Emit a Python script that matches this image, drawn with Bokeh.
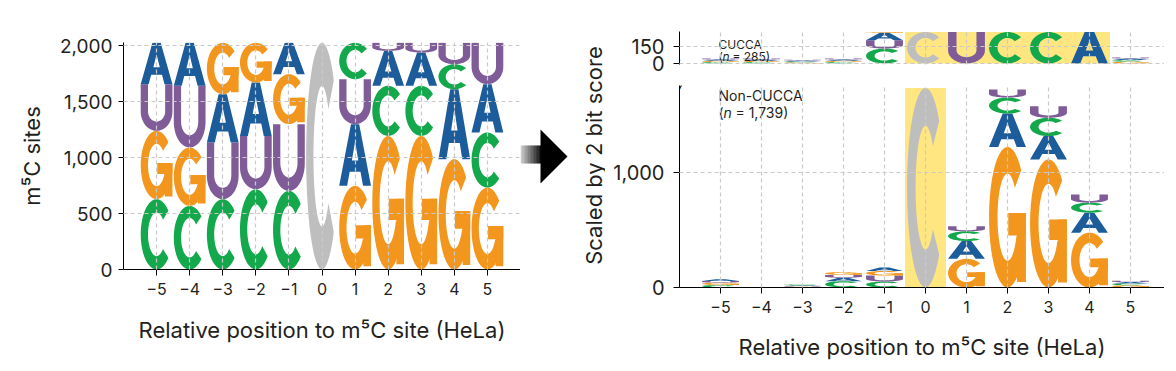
import numpy as np
from bokeh.plotting import figure
from bokeh.models import ColumnDataSource, Range1d, FixedTicker, NumeralTickFormatter, Label
from bokeh.layouts import row, column
from bokeh.embed import file_html
from bokeh.resources import INLINE
from bokeh.core.properties import value

# ---------------- data ----------------
positions = [-5, -4, -3, -2, -1, 0, 1, 2, 3, 4, 5]
tick_labels = ["\u22125", "\u22124", "\u22123", "\u22122", "\u22121", "0", "1", "2", "3", "4", "5"]

# left logo: number of m5C sites per nucleotide (total 2,024)
all_A = [369, 384, 431, 477, 280, 0, 551, 312, 297, 625, 432]
all_C = [628, 568, 628, 717, 702, 2024, 325, 447, 447, 223, 491]
all_G = [610, 521, 459, 354, 446, 0, 747, 1193, 1193, 985, 732]
all_U = [417, 551, 506, 476, 596, 0, 401, 72, 87, 191, 369]
all_order = ["CGUA", "CGUA", "CUAG", "CUAG", "CUGA", "C", "GAUC", "GCAU", "GCAU", "GACU", "GCAU"]

# right top logo: CUCCA sites (n = 285), scaled by 2 bit score
cucca_n = 285
cucca_A = [11, 11, 8, 11, 69, 0, 0, 0, 0, 285, 14]
cucca_C = [12, 12, 9, 12, 135, 285, 0, 285, 285, 0, 15]
cucca_G = [12, 12, 9, 12, 6, 0, 0, 0, 0, 0, 15]
cucca_U = [10, 10, 8, 10, 75, 0, 285, 0, 0, 0, 10]
cucca_order = ["CGAU", "CGAU", "GCAU", "CGAU", "CUAG", "C", "U", "C", "C", "A", "GCAU"]

# right bottom logo: non-CUCCA sites (n = 1,739), scaled by 2 bit score
non_n = 1739
non_A = [16, 0, 6, 30, 30, 0, 155, 290, 203, 174, 12]
non_C = [22, 0, 6, 55, 52, 1739, 85, 140, 160, 87, 15]
non_G = [20, 0, 8, 25, 40, 0, 250, 1225, 1116, 478, 20]
non_U = [14, 0, 6, 25, 52, 0, 43, 70, 101, 72, 11]
non_order = ["CGUA", "CGUA", "GUAC", "CAUG", "CUGA", "C", "GACU", "GACU", "GACU", "GACU", "GCAU"]

site_position = 0
left_yticks = [0, 500, 1000, 1500, 2000]
top_yticks = [0, 150]
bottom_yticks = [0, 1000]

colors = {"A": "#1D5C9A", "C": "#14A84C", "G": "#F2961D", "U": "#7F5C98"}
site_color = "#BEBEBE"
highlight = "#FFE680"
FONT = "Inter"
TXT = "#231f20"


# ---------------- letter shapes (unit box) ----------------
def _arc(cx, cy, rx, ry, a0, a1, n=40):
    t = np.radians(np.linspace(a0, a1, n))
    return list(cx + rx * np.cos(t)), list(cy + ry * np.sin(t))


def glyph_shapes(ch):
    if ch == "A":
        outer = ([0, 0.37, 0.63, 1, 0.75, 0.67, 0.33, 0.25], [0, 1, 1, 0, 0, 0.23, 0.23, 0])
        hole = ([0.40, 0.60, 0.50], [0.41, 0.41, 0.72])
        return [[outer, hole]]
    if ch == "C":
        ox, oy = _arc(0.5, 0.5, 0.5, 0.5, 42, 318)
        ix, iy = _arc(0.5, 0.5, 0.27, 0.31, 318, 42)
        return [[(ox + ix, oy + iy)]]
    if ch == "G":
        ox, oy = _arc(0.5, 0.5, 0.5, 0.5, 42, 335)
        ix, iy = _arc(0.5, 0.5, 0.27, 0.31, 335, 42)
        bar = ([0.52, 1, 1, 0.52], [0.37, 0.37, 0.53, 0.53])
        stem = ([0.76, 1, 1, 0.76], [0.04, 0.04, 0.53, 0.53])
        return [[(ox + ix, oy + iy)], [bar], [stem]]
    # U
    ox, oy = _arc(0.5, 0.42, 0.5, 0.42, 180, 360)
    ix, iy = _arc(0.5, 0.42, 0.27, 0.22, 360, 180)
    us = [0] + ox + [1, 0.77] + ix + [0.23]
    vs = [1] + oy + [1, 1] + iy + [1]
    return [[(us, vs)]]


def logo_source(order, counts, width):
    xs, ys, cols = [], [], []
    for i, p in enumerate(positions):
        base = 0.0
        for ch in order[i]:
            h = counts[ch][i]
            if h <= 0:
                continue
            col = site_color if (p == site_position and ch == "C") else colors[ch]
            x0 = p - width / 2
            for poly in glyph_shapes(ch):
                xs.append([[[x0 + u * width for u in ring[0]] for ring in poly]])
                ys.append([[[base + v * h for v in ring[1]] for ring in poly]])
                cols.append(col)
            base += h
    return ColumnDataSource(dict(xs=xs, ys=ys, color=cols))


def style(p, yticks, xlab_size="16px", ylab_size="19px"):
    p.outline_line_color = None
    p.background_fill_color = "white"
    for ax in p.axis:
        ax.axis_line_color = "black"
        ax.axis_line_width = 1
        ax.major_tick_line_color = "black"
        ax.major_tick_in = 0
        ax.major_tick_out = 6
        ax.minor_tick_line_color = None
        ax.major_label_text_font = FONT
        ax.axis_label_text_font = FONT
        ax.axis_label_text_font_style = "normal"
        ax.axis_label_text_font_size = "22px"
        ax.major_label_text_color = TXT
        ax.axis_label_text_color = TXT
    p.xaxis.ticker = FixedTicker(ticks=positions)
    p.xaxis.major_label_overrides = {pp: t for pp, t in zip(positions, tick_labels)}
    p.xaxis.major_label_text_font_size = xlab_size
    p.xaxis.major_label_standoff = 7
    p.xaxis.axis_label_standoff = 16
    p.yaxis.ticker = FixedTicker(ticks=yticks)
    p.yaxis.formatter = NumeralTickFormatter(format="0,0")
    p.yaxis.major_label_text_font_size = ylab_size
    for g in p.grid:
        g.grid_line_color = "#c9c9c9"
        g.grid_line_dash = "4 3"
        g.grid_line_width = 1.2
        g.level = "overlay"


common = dict(output_backend="svg", toolbar_location=None, title=None)

# ---------------- left logo ----------------
pl = figure(frame_width=397, frame_height=227, x_range=Range1d(-6, 6), y_range=Range1d(0, 2027),
            min_border_left=123, min_border_right=0, min_border_top=42, min_border_bottom=72, **common)
src_all = logo_source(all_order, {"A": all_A, "C": all_C, "G": all_G, "U": all_U}, 0.96)
pl.multi_polygons(xs="xs", ys="ys", fill_color="color", line_color=None, source=src_all)
style(pl, left_yticks)
pl.xaxis.axis_label = "Relative position to m\u2075C site (HeLa)"
pl.xaxis.axis_label_standoff = 19
pl.yaxis.axis_label = "m\u2075C sites"
pl.yaxis.major_label_standoff = 6
pl.yaxis.major_tick_out = 5
pl.yaxis.axis_label_standoff = 12

# ---------------- arrow + shared y title (page pixel coordinates) ----------------
# same frame geometry as the left logo (row aligns plot frames)
pa = figure(frame_width=85, frame_height=227, x_range=Range1d(520, 605), y_range=Range1d(269, 42),
            x_axis_location=None, y_axis_location=None, min_border_left=0, min_border_right=0,
            min_border_top=42, min_border_bottom=72, **common)
pa.outline_line_color = None
pa.grid.visible = False
nseg = 14
edges = np.linspace(520, 541, nseg + 1)
greys = np.linspace(205, 15, nseg).astype(int)
pa.quad(left=edges[:-1], right=edges[1:] + 0.4, bottom=163, top=145,
        fill_color=["#%02x%02x%02x" % (g, g, g) for g in greys], line_color=None)
pa.patch(x=[540, 540, 567], y=[129, 183, 156], fill_color="black", line_color=None)
pa.text(x=[593], y=[155], text=["Scaled by 2 bit score"], angle=np.pi / 2, text_align="center",
        text_baseline="middle", text_font=value(FONT), text_font_size="22px", text_color=TXT)

# ---------------- right top logo (CUCCA) ----------------
XR = (-6, 5.83)
pt = figure(frame_width=485, frame_height=33, x_range=Range1d(*XR), y_range=Range1d(-10, 290),
            min_border_left=74, min_border_right=0, min_border_top=31, min_border_bottom=11, **common)
pt.quad(left=[site_position - 0.5], right=[site_position + 4.5], bottom=[0], top=[cucca_n],
        fill_color=highlight, line_color=None)
src_c = logo_source(cucca_order, {"A": cucca_A, "C": cucca_C, "G": cucca_G, "U": cucca_U}, 0.9)
pt.multi_polygons(xs="xs", ys="ys", fill_color="color", line_color=None, source=src_c)
style(pt, top_yticks, ylab_size="20px")
pt.xaxis.visible = False
pt.yaxis.major_label_standoff = 9
pt.text(x=[-5.05], y=[172], text=["CUCCA"], text_font=value(FONT), text_font_size="12px",
        text_baseline="middle", text_color=TXT)
pt.text(x=[-5.05] * 3, y=[66] * 3, text=["(", "n", "= 285)"], x_offset=[0, 4, 14],
        text_font=value(FONT), text_font_size="12px", text_font_style=["normal", "italic", "normal"],
        text_baseline="middle", text_color=TXT)
pt.add_layout(Label(x=-6, y=0, x_offset=-3, y_offset=-3, text="\u2571", text_align="center",
                    text_baseline="middle", text_font="DejaVu Sans", text_font_size="11px",
                    text_color="black"))

# ---------------- right bottom logo (non-CUCCA) ----------------
pb = figure(frame_width=485, frame_height=202, x_range=Range1d(*XR), y_range=Range1d(0, 1760),
            min_border_left=74, min_border_right=0, min_border_top=10, min_border_bottom=70, **common)
pb.quad(left=[site_position - 0.5], right=[site_position + 0.5], bottom=[0], top=[non_n],
        fill_color=highlight, line_color=None)
src_n = logo_source(non_order, {"A": non_A, "C": non_C, "G": non_G, "U": non_U}, 0.9)
pb.multi_polygons(xs="xs", ys="ys", fill_color="color", line_color=None, source=src_n)
style(pb, bottom_yticks, ylab_size="20px")
pb.yaxis.major_label_standoff = 9
pb.xaxis.axis_label = "Relative position to m\u2075C site (HeLa)"
pb.xaxis.axis_label_standoff = 18
pb.text(x=[-5.05], y=[1671], text=["Non-CUCCA"], text_font=value(FONT), text_font_size="14px",
        text_baseline="middle", text_color=TXT)
pb.text(x=[-5.05] * 3, y=[1523] * 3, text=["(", "n", "= 1,739)"], x_offset=[0, 5, 17],
        text_font=value(FONT), text_font_size="14px", text_font_style=["normal", "italic", "normal"],
        text_baseline="middle", text_color=TXT)
pb.add_layout(Label(x=-6, y=1760, x_offset=0, y_offset=-3, text="\u2571", text_align="center",
                    text_baseline="middle", text_font="DejaVu Sans", text_font_size="15px",
                    text_color="black"))

layout = row(pl, pa, column(pt, pb))
open("out.html", "w").write(file_html(layout, INLINE))
